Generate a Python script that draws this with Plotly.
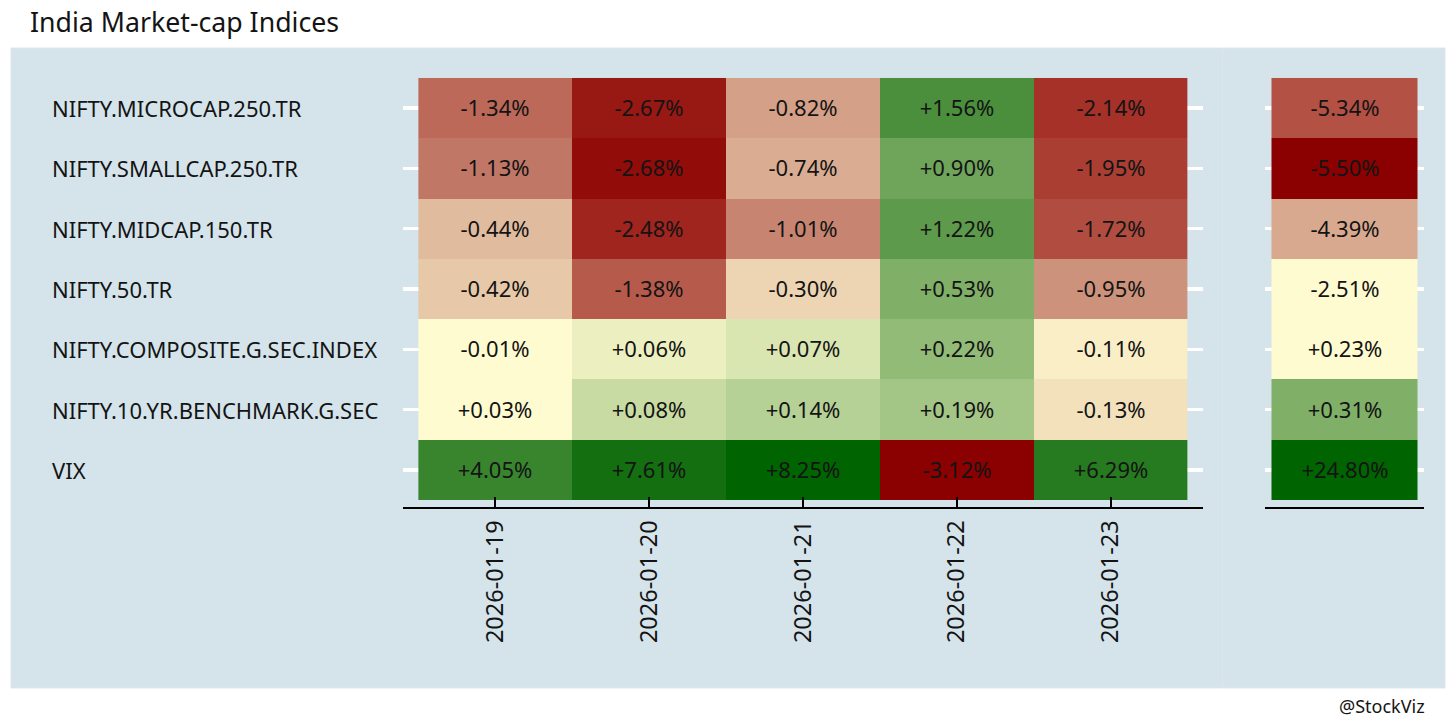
import plotly.graph_objects as go

# ---------------- data ----------------
title_text = "India Market-cap Indices"
credit_text = "@StockViz"

indices = [
    "NIFTY.MICROCAP.250.TR",
    "NIFTY.SMALLCAP.250.TR",
    "NIFTY.MIDCAP.150.TR",
    "NIFTY.50.TR",
    "NIFTY.COMPOSITE.G.SEC.INDEX",
    "NIFTY.10.YR.BENCHMARK.G.SEC",
    "VIX",
]
dates = ["2026-01-19", "2026-01-20", "2026-01-21", "2026-01-22", "2026-01-23"]

r_microcap = [-1.34, -2.67, -0.82, 1.56, -2.14]
r_smallcap = [-1.13, -2.68, -0.74, 0.90, -1.95]
r_midcap = [-0.44, -2.48, -1.01, 1.22, -1.72]
r_nifty50 = [-0.42, -1.38, -0.30, 0.53, -0.95]
r_composite = [-0.01, 0.06, 0.07, 0.22, -0.11]
r_10yr = [0.03, 0.08, 0.14, 0.19, -0.13]
r_vix = [4.05, 7.61, 8.25, -3.12, 6.29]

cumulative = [-5.34, -5.50, -4.39, -2.51, 0.23, 0.31, 24.80]

daily = [r_microcap, r_smallcap, r_midcap, r_nifty50, r_composite, r_10yr, r_vix]

# ---------------- colour position (rank based, split at zero) ----------------
def rank_positions(values):
    neg = sorted(v for v in values if v < 0)
    pos = sorted(v for v in values if v >= 0)

    def f(v):
        if v < 0:
            return 0.5 * neg.index(v) / (len(neg) - 1) if len(neg) > 1 else 0.5
        return 0.5 + 0.5 * pos.index(v) / (len(pos) - 1) if len(pos) > 1 else 0.5
    return f

flat = [v for row in daily for v in row]
f_left = rank_positions(flat)
z_left = [[f_left(v) for v in row] for row in daily]
t_left = [[f"{v:+.2f}%" for v in row] for row in daily]

f_right = rank_positions(cumulative)
z_right = [[f_right(v)] for v in cumulative]
t_right = [[f"{v:+.2f}%"] for v in cumulative]

colorscale = [
    [0.0, "#8b0000"],
    [0.125, "#aa3a30"],
    [0.25, "#c47e6c"],
    [0.375, "#e2bea0"],
    [0.5, "#fffbd0"],
    [0.625, "#bed69c"],
    [0.75, "#80b068"],
    [0.875, "#428a36"],
    [1.0, "#006400"],
]

W, H = 1456, 728
BG = "#d5e4eb"
FONT = "Noto Sans"
TXT = "#141414"

def px_x(p):
    return p / W

def px_y(p):
    return 1 - p / H

fig = go.Figure()

fig.add_trace(go.Heatmap(
    z=z_left, x=dates, y=indices, text=t_left,
    texttemplate="%{text}", textfont=dict(family=FONT, size=22, color=TXT),
    colorscale=colorscale, zmin=0, zmax=1, showscale=False,
    hoverinfo="skip", xaxis="x", yaxis="y",
))
fig.add_trace(go.Heatmap(
    z=z_right, x=["cum"], y=indices, text=t_right,
    texttemplate="%{text}", textfont=dict(family=FONT, size=22, color=TXT),
    colorscale=colorscale, zmin=0, zmax=1, showscale=False,
    hoverinfo="skip", xaxis="x2", yaxis="y2",
))

ydom = [px_y(507), px_y(71)]
yr = [len(indices) - 0.5 + 0.116, -0.5 - 0.116]

common_y = dict(
    type="category", range=yr, domain=ydom, showgrid=True, gridcolor="white",
    gridwidth=3.5, showticklabels=False, ticks="", zeroline=False,
    showline=False, automargin=False,
)

fig.update_layout(
    width=W, height=H,
    margin=dict(l=0, r=0, t=0, b=0),
    paper_bgcolor="white",
    plot_bgcolor="rgba(0,0,0,0)",
    font=dict(family=FONT, color=TXT),
    xaxis=dict(
        type="category", range=[-0.6, len(dates) - 0.4],
        domain=[px_x(403), px_x(1203)], anchor="y",
        showgrid=False, zeroline=False, showline=True, linecolor="black",
        linewidth=2, ticks="inside", ticklen=10, tickwidth=2, tickcolor="black",
        tickangle=-90, tickfont=dict(family=FONT, size=23.5, color=TXT),
        ticklabelstandoff=2, automargin=False,
    ),
    yaxis=dict(anchor="x", **common_y),
    xaxis2=dict(
        type="category", range=[-0.5445, 0.5445],
        domain=[px_x(1265), px_x(1424)], anchor="y2",
        showgrid=False, zeroline=False, showline=True, linecolor="black",
        linewidth=2, ticks="", showticklabels=False, automargin=False,
    ),
    yaxis2=dict(anchor="x2", **common_y),
    showlegend=False,
)

# panel backgrounds (two plots side by side)
fig.add_shape(type="rect", xref="paper", yref="paper",
              x0=px_x(11), x1=px_x(1222.5), y0=px_y(688), y1=px_y(48),
              fillcolor=BG, line=dict(color="#dbe7ed", width=1), layer="below")
fig.add_shape(type="rect", xref="paper", yref="paper",
              x0=px_x(1222.5), x1=px_x(1445), y0=px_y(688), y1=px_y(48),
              fillcolor=BG, line=dict(color="#dbe7ed", width=1), layer="below")

# left-aligned row labels
for name in indices:
    fig.add_annotation(x=px_x(50), xref="paper", y=name, yref="y",
                       text=name, showarrow=False, xanchor="left", yanchor="middle",
                       font=dict(family=FONT, size=22, color=TXT))

fig.add_annotation(x=px_x(28), y=px_y(21), xref="paper", yref="paper",
                   text=title_text, showarrow=False, xanchor="left", yanchor="middle",
                   font=dict(family=FONT, size=26.7, color=TXT))
fig.add_annotation(x=px_x(1427), y=px_y(706), xref="paper", yref="paper",
                   text=credit_text, showarrow=False, xanchor="right", yanchor="middle",
                   font=dict(family=FONT, size=18, color=TXT))

fig.write_html("out.html",
               config={"displayModeBar": False, "staticPlot": True},
               post_script="document.body.style.margin='0';document.body.style.overflow='hidden';")
